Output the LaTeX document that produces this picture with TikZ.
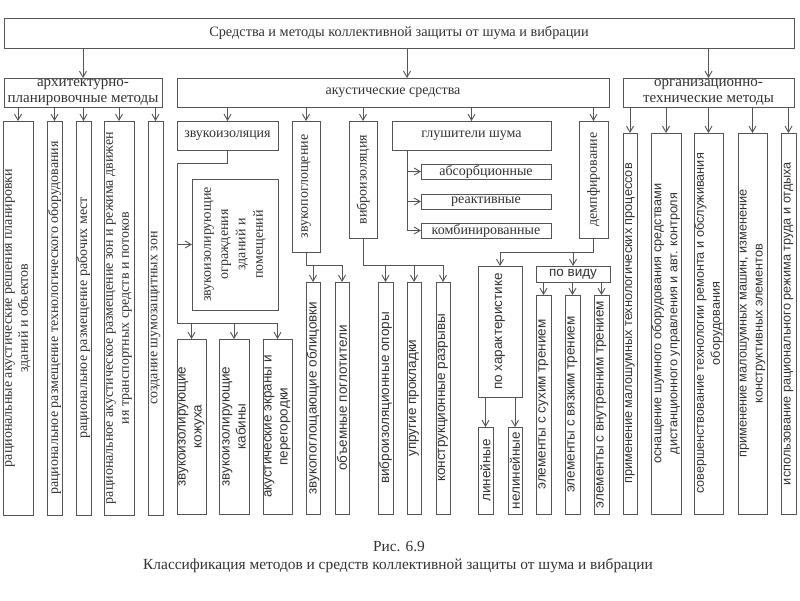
\documentclass[tikz,border=0pt]{standalone}
\usepackage{fontspec}
\setmainfont{Liberation Serif}
\newfontfamily\sansf{Liberation Sans}
\usetikzlibrary{arrows.meta}
\definecolor{lc}{HTML}{555555}
\definecolor{tc}{HTML}{333333}
\tikzset{
 box/.style={draw=lc, line width=0.9pt, inner sep=0pt, outer sep=0pt},
 arr/.style={draw=lc, line width=0.9pt, -{Straight Barb[length=6pt,width=7pt]}},
 tx/.style={text=tc, inner sep=0pt, align=center, font=\fontsize{14}{16}\selectfont},
 th/.style={text=tc, inner sep=0pt, align=center, font=\fontsize{14.3}{16}\selectfont},
 hd/.style={text=tc, inner sep=0pt, align=center, font=\fontsize{15}{16}\selectfont},
 ts/.style={text=tc, inner sep=0pt, align=center, font=\sansf\fontsize{13.5}{16}\selectfont},
 to/.style={text=tc, inner sep=0pt, align=center, font=\sansf\fontsize{12.7}{16}\selectfont},
 captxt/.style={text=tc, inner sep=0pt, align=center, font=\fontsize{15.4}{18}\selectfont},
}
\newcommand\bxx[6]{\node[box, minimum width=#4pt, minimum height=#5pt, label={#6}] (#1) at (#2,#3) {};}
\begin{document}
\begin{tikzpicture}[x=1pt,y=-1pt]
\fill[white] (0,0) rectangle (800,600);
\useasboundingbox (0,0) rectangle (800,600);
% top
\bxx{title}{399}{33}{790}{30}{[th]center:Средства и методы коллективной защиты от шума и вибрации}
\bxx{arch}{83}{92.5}{158}{29}{[hd]center:{архитектурно-\\планировочные методы}}
\bxx{acous}{393}{92.5}{432}{29}{[tx]center:акустические средства}
\bxx{org}{708.5}{92.5}{171}{29}{[hd]center:{организационно-\\технические методы}}
% arch children
\bxx{a1}{18}{318}{30}{394}{[tx,rotate=90]center:{рациональные акустические решения планировки\\зданий и объектов}}
\bxx{a2}{54.5}{318}{15}{394}{[tx,rotate=90]center:{рациональное размещение технологического оборудования}}
\bxx{a3}{83.5}{318}{15}{394}{[tx,rotate=90]center:{рациональное размещение рабочих мест}}
\bxx{a4}{119}{318}{30}{394}{[tx,rotate=90]center:{рациональное акустическое размещение зон и режима движен\\ия транспортных средств и потоков}}
\bxx{a5}{155.5}{318}{15}{394}{[tx,rotate=90]center:{создание шумозащитных зон}}
% acoustic children
\bxx{zi}{227.5}{135.5}{101}{29}{[tx]center:звукоизоляция}
\bxx{zp}{306}{186.5}{28}{131}{[tx,rotate=90]center:звукопоглощение}
\bxx{vi}{363}{179.5}{28}{117}{[tx,rotate=90]center:виброизоляция}
\bxx{gl}{471.5}{135.5}{159}{29}{[tx]center:глушители шума}
\bxx{dm}{593.5}{179.5}{29}{117}{[tx,rotate=90]center:демпфирование}
\bxx{ab}{486}{171.5}{130}{15}{[tx]center:абсорбционные}
\bxx{re}{486}{201.5}{130}{15}{[tx]center:реактивные}
\bxx{ko}{486}{230.5}{130}{15}{[tx]center:комбинированные}
\bxx{ogr}{235}{244.5}{86}{131}{[tx,rotate=90,font=\fontsize{14}{17.3}\selectfont]center:{звукоизолирующие\\ограждения\\зданий и\\помещений}}
\bxx{koz}{191.5}{426.5}{29}{175}{[ts,rotate=90]center:{звукоизолирующие\\кожуха}}
\bxx{kab}{234}{426.5}{30}{175}{[ts,rotate=90]center:{звукоизолирующие\\кабины}}
\bxx{ekr}{277.5}{426.5}{29}{175}{[ts,rotate=90]center:{акустические экраны и\\перегородки}}
\bxx{obl}{313}{398}{14}{232}{[ts,rotate=90]center:{звукопоглощающие облицовки}}
\bxx{pog}{342}{398}{14}{232}{[ts,rotate=90]center:{объемные поглотители}}
\bxx{op}{385.5}{398}{15}{232}{[ts,rotate=90]center:{виброизоляционные опоры}}
\bxx{pr}{414}{398}{14}{232}{[ts,rotate=90]center:{упругие прокладки}}
\bxx{rz}{443}{398}{14}{232}{[ts,rotate=90]center:{конструкционные разрывы}}
\bxx{har}{500}{331.5}{44}{131}{[ts,rotate=90]center:{по характеристике}}
\bxx{vid}{573}{274}{74}{16}{[ts]center:{по виду}}
\bxx{lin}{485.5}{470.5}{15}{87}{[ts,rotate=90]center:{линейные}}
\bxx{nel}{515}{470.5}{14}{87}{[ts,rotate=90]center:{нелинейные}}
\bxx{sux}{543.5}{404.5}{15}{219}{[ts,rotate=90]center:{элементы с сухим трением}}
\bxx{vja}{572.5}{404.5}{15}{219}{[ts,rotate=90]center:{элементы с вязким трением}}
\bxx{vnu}{601.5}{404.5}{15}{219}{[ts,rotate=90]center:{элементы с внутренним трением}}
% org children
\bxx{o1}{630}{323.5}{14}{381}{[to,rotate=90]center:{применение малошумных технологических процессов}}
\bxx{o2}{666}{323.5}{30}{381}{[to,rotate=90]center:{оснащение шумного оборудования средствами\\дистанционного управления и авт. контроля}}
\bxx{o3}{708.5}{323.5}{29}{381}{[to,rotate=90]center:{совершенствование технологии ремонта и обслуживания\\оборудования}}
\bxx{o4}{752.5}{323.5}{29}{381}{[to,rotate=90]center:{применение малошумных машин, изменение\\конструктивных элементов}}
\bxx{o5}{788.5}{323.5}{15}{381}{[to,rotate=90]center:{использование рационального режима труда и отдыха}}
% caption
\node[captxt] (c1) at (399,547) {Рис. 6.9};
\node[captxt] (c2) at (398,566) {Классификация методов и средств коллективной защиты от шума и вибрации};
% connectors top
\coordinate (ta) at (407,78);
\draw[arr] (title.south -| arch.north) -- (arch.north);
\draw[arr] (title.south -| ta) -- (ta);
\draw[arr] (title.south -| org.north) -- (org.north);
\foreach \n in {a1,a2,a3,a4,a5} {\draw[arr] (arch.south -| \n.north) -- (\n.north);}
\foreach \n in {zi,zp,vi,gl,dm} {\draw[arr] (acous.south -| \n.north) -- (\n.north);}
\foreach \n in {o1,o2,o3,o4,o5} {\draw[arr] (org.south -| \n.north) -- (\n.north);}
% glushiteli
\coordinate (gs) at ([xshift=15pt]gl.south west);
\draw[arr] (gs) |- (ko.west);
\draw[arr] (gs |- ab.west) -- (ab.west);
\draw[arr] (gs |- re.west) -- (re.west);
% zvukoizolyaciya
\coordinate (zA) at (177,163);
\coordinate (zB) at (177,323);
\draw[arr] (zi.south) |- (zA) -- (zB) -| (ekr.north);
\draw[arr] (zA |- ogr.west) -- (ogr.west);
\draw[arr] (zB -| koz.north) -- (koz.north);
\draw[arr] (zB -| kab.north) -- (kab.north);
% zvukopogloshchenie
\coordinate (pA) at (306,265);
\draw[arr] (zp.south) -- (pA) -| (pog.north);
\draw[arr] (pA -| obl.north) -- (obl.north);
% vibroizolyaciya
\coordinate (vA) at (363,265);
\draw[arr] (vi.south) -- (vA) -| (rz.north);
\draw[arr] (vA -| op.north) -- (op.north);
\draw[arr] (vA -| pr.north) -- (pr.north);
% dempfirovanie
\coordinate (dA) at (593.5,252);
\draw[arr] (dm.south) -- (dA) -| (har.north);
\draw[arr] (dA -| vid.north) -- (vid.north);
\draw[arr] (har.south -| lin.north) -- (lin.north);
\draw[arr] (har.south -| nel.north) -- (nel.north);
\foreach \n in {sux,vja,vnu} {\draw[arr] (vid.south -| \n.north) -- (\n.north);}
\end{tikzpicture}
\end{document}
